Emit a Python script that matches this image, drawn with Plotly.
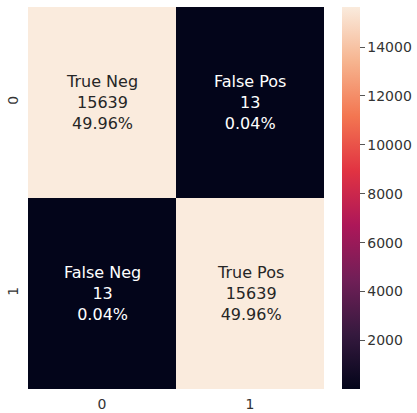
import plotly.graph_objects as go

categories = ["0", "1"]
counts = [[15639, 13], [13, 15639]]
names = [["True Neg", "False Pos"], ["False Neg", "True Pos"]]
percents = [["49.96%", "0.04%"], ["0.04%", "49.96%"]]
cbar_ticks = [2000, 4000, 6000, 8000, 10000, 12000, 14000]

rocket = [
    [0.0, "#03051a"],
    [1/7, "#35193e"],
    [2/7, "#701f57"],
    [3/7, "#ad1759"],
    [4/7, "#e13342"],
    [5/7, "#f37651"],
    [6/7, "#f6b48f"],
    [1.0, "#faebdd"],
]

zmin = min(min(r) for r in counts)
zmax = max(max(r) for r in counts)

fig = go.Figure(go.Heatmap(
    z=counts, x=categories, y=categories,
    colorscale=rocket, zmin=zmin, zmax=zmax,
    xgap=0, ygap=0,
    colorbar=dict(
        thickness=18, thicknessmode="pixels",
        len=1, lenmode="fraction", y=0.5, yanchor="middle", ypad=0,
        x=1.0623, xanchor="left", xpad=0,
        outlinewidth=0,
        tickvals=cbar_ticks, tickformat="d", ticks="outside", ticklen=5, tickwidth=1,
        tickcolor="#555", tickfont=dict(family="DejaVu Sans", size=14, color="#333"),
    ),
    hoverinfo="skip",
))

annotations = []
for i, row in enumerate(categories):
    for j, col in enumerate(categories):
        v = counts[i][j]
        frac = (v - zmin) / (zmax - zmin)
        color = "#262626" if frac > 0.5 else "#ffffff"
        annotations.append(dict(
            x=col, y=row, xref="x", yref="y",
            text=f"{names[i][j]}<br>{v}<br>{percents[i][j]}",
            showarrow=False,
            font=dict(family="DejaVu Sans", size=16, color=color),
        ))

fig.update_layout(
    width=417, height=413,
    margin=dict(l=27.5, r=92.5, t=7, b=24, autoexpand=False),
    paper_bgcolor="white", plot_bgcolor="white",
    annotations=annotations,
    font=dict(family="DejaVu Sans", color="#333"),
)
fig.update_xaxes(type="category", showgrid=False, zeroline=False, showline=False,
                 automargin=False,
                 ticks="outside", ticklen=2, tickcolor="rgba(0,0,0,0)",
                 tickfont=dict(family="DejaVu Sans", size=14, color="#333"))
fig.update_yaxes(type="category", autorange="reversed", showgrid=False, zeroline=False,
                 automargin=False,
                 showline=False, ticks="outside", ticklen=3, tickcolor="rgba(0,0,0,0)",
                 tickangle=-90,
                 tickfont=dict(family="DejaVu Sans", size=14, color="#333"))

fig.write_html("out.html", config={"displayModeBar": False},
               post_script="document.body.style.margin='0px';")
